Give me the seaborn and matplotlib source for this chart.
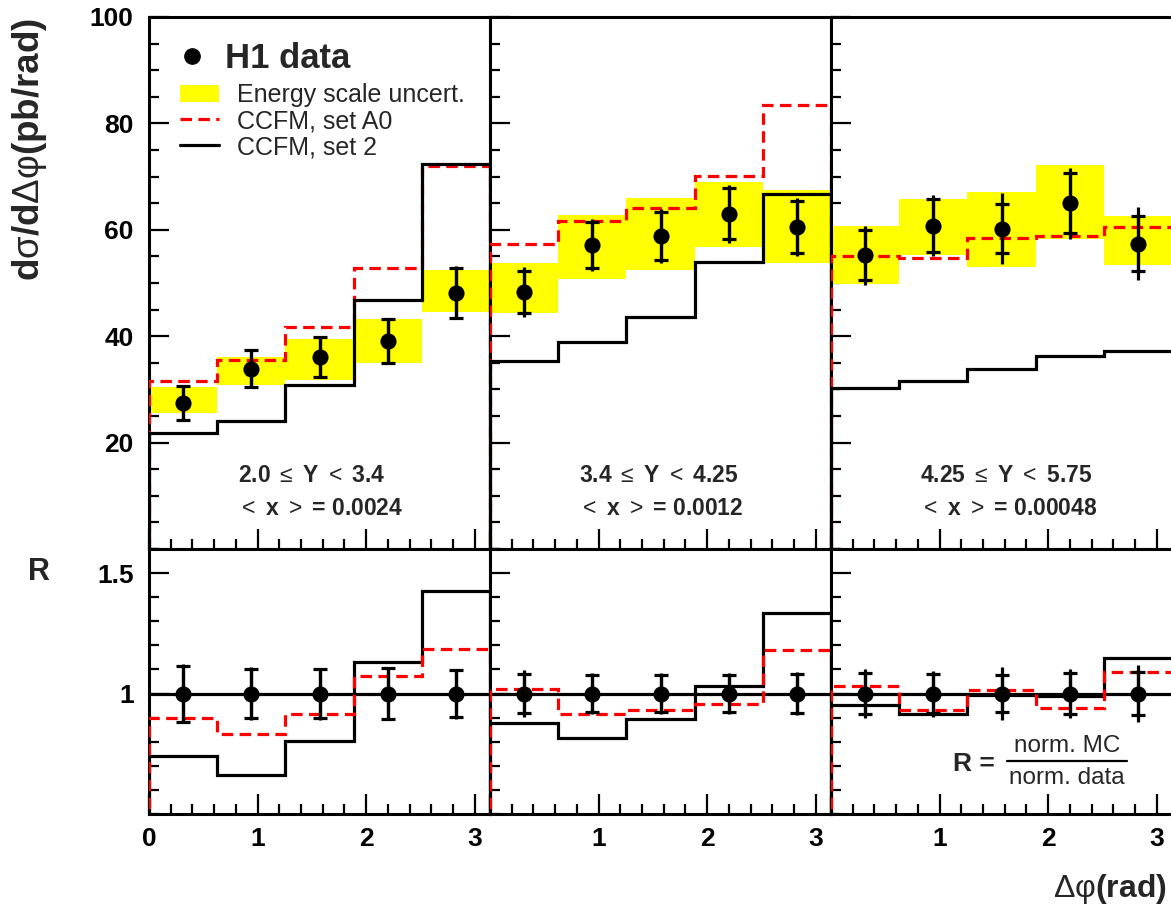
import numpy as np
import pandas as pd
import matplotlib
matplotlib.use("Agg")
import matplotlib.pyplot as plt
from matplotlib.lines import Line2D
from matplotlib.patches import Patch
from matplotlib.ticker import MultipleLocator, FixedLocator, FixedFormatter
import seaborn as sns

# five equal Δφ bins between 0 and π
phi_edges = np.linspace(0.0, np.pi, 6)
phi_centres = 0.5 * (phi_edges[:-1] + phi_edges[1:])

rapidity_labels = [r"2.0 $\leq$ Y $<$ 3.4",
                   r"3.4 $\leq$ Y $<$ 4.25",
                   r"4.25 $\leq$ Y $<$ 5.75"]
mean_x_labels = [r"$<$ x $>$ = 0.0024",
                 r"$<$ x $>$ = 0.0012",
                 r"$<$ x $>$ = 0.00048"]

# H1 data, dσ/dΔφ in pb/rad, one list per rapidity interval
xsec_y1 = [27.5, 33.9, 36.1, 39.1, 48.2]
xsec_y2 = [48.3, 57.1, 58.8, 63.0, 60.5]
xsec_y3 = [55.2, 60.8, 60.2, 65.0, 57.4]
# statistical (inner) and total (outer) errors
stat_y1 = [3.2, 3.5, 3.7, 4.1, 4.7]
stat_y2 = [4.0, 4.3, 4.5, 4.8, 4.9]
stat_y3 = [4.7, 4.9, 4.6, 5.6, 5.2]
tot_y1 = [3.4, 3.7, 3.9, 4.3, 5.0]
tot_y2 = [4.7, 4.9, 5.1, 5.4, 5.4]
tot_y3 = [5.6, 5.8, 6.7, 6.7, 6.8]

# energy scale uncertainty band (lower / upper edge)
escale_lo_y1 = [25.6, 30.8, 31.8, 35.0, 44.5]
escale_hi_y1 = [30.4, 36.1, 39.5, 43.3, 52.5]
escale_lo_y2 = [44.3, 50.8, 52.5, 56.8, 53.8]
escale_hi_y2 = [53.8, 62.8, 66.0, 68.9, 67.5]
escale_lo_y3 = [49.8, 55.2, 53.0, 58.2, 53.3]
escale_hi_y3 = [60.8, 65.7, 67.1, 72.2, 62.5]

# CCFM predictions
ccfm_a0_y1 = [31.5, 35.6, 41.8, 52.9, 71.9]
ccfm_a0_y2 = [57.4, 61.6, 64.1, 70.2, 83.5]
ccfm_a0_y3 = [55.0, 54.7, 58.5, 58.8, 60.5]
ccfm_s2_y1 = [21.8, 24.1, 30.8, 46.8, 72.4]
ccfm_s2_y2 = [35.3, 38.9, 43.6, 54.0, 66.7]
ccfm_s2_y3 = [30.3, 31.6, 33.9, 36.3, 37.3]

# shape ratios R = norm. MC / norm. data
ratio_a0_y1 = [0.897, 0.831, 0.917, 1.072, 1.185]
ratio_a0_y2 = [1.017, 0.917, 0.930, 0.957, 1.182]
ratio_a0_y3 = [1.030, 0.930, 1.014, 0.938, 1.090]
ratio_s2_y1 = [0.741, 0.662, 0.803, 1.129, 1.427]
ratio_s2_y2 = [0.876, 0.817, 0.893, 1.030, 1.336]
ratio_s2_y3 = [0.952, 0.917, 0.996, 0.990, 1.147]

panels = [
    dict(xsec=xsec_y1, stat=stat_y1, tot=tot_y1, lo=escale_lo_y1, hi=escale_hi_y1,
         a0=ccfm_a0_y1, s2=ccfm_s2_y1, ra0=ratio_a0_y1, rs2=ratio_s2_y1),
    dict(xsec=xsec_y2, stat=stat_y2, tot=tot_y2, lo=escale_lo_y2, hi=escale_hi_y2,
         a0=ccfm_a0_y2, s2=ccfm_s2_y2, ra0=ratio_a0_y2, rs2=ratio_s2_y2),
    dict(xsec=xsec_y3, stat=stat_y3, tot=tot_y3, lo=escale_lo_y3, hi=escale_hi_y3,
         a0=ccfm_a0_y3, s2=ccfm_s2_y3, ra0=ratio_a0_y3, rs2=ratio_s2_y3),
]

sns.set_style("ticks")
plt.rcParams.update({
    "font.family": ["Liberation Sans", "DejaVu Sans"],
    "mathtext.fontset": "custom",
    "mathtext.rm": "Liberation Sans",
    "mathtext.it": "Liberation Sans:italic",
    "mathtext.bf": "Liberation Sans:bold",
    "axes.linewidth": 2.2,
    "axes.edgecolor": "black",
    "xtick.color": "black",
    "ytick.color": "black",
})

W, H = 1171, 915
fig = plt.figure(figsize=(W / 100, H / 100), dpi=100)


def axes_px(left, top, width, height):
    return fig.add_axes([left / W, 1 - (top + height) / H, width / W, height / H])


RED_DASH = (0, (3.6, 2.0))
LW = 2.3
col_left = [149, 490, 831]
col_w = 341
widths = np.diff(phi_edges)


def style_ticks(ax):
    ax.tick_params(which="both", direction="in", top=False, right=False,
                   width=1.6, labelsize=19)
    ax.tick_params(axis="y", pad=11)
    ax.tick_params(axis="x", pad=9)
    ax.tick_params(which="major", length=14.5)
    ax.tick_params(which="minor", length=7.5)
    ax.xaxis.set_major_locator(FixedLocator([0, 1, 2, 3]))
    ax.xaxis.set_minor_locator(MultipleLocator(0.2))
    for lab in ax.get_xticklabels() + ax.get_yticklabels():
        lab.set_fontweight("bold")


def draw_errors(ax, x, y, stat, tot):
    ax.errorbar(x, y, yerr=tot, fmt="none", ecolor="black", elinewidth=2.3,
                capsize=0, zorder=6)
    ax.errorbar(x, y, yerr=stat, fmt="none", ecolor="black", elinewidth=2.3,
                capsize=5.0, capthick=2.3, zorder=6)
    sns.scatterplot(x=x, y=y, ax=ax, color="black", s=135, edgecolor="black",
                    linewidth=0, zorder=7, legend=False)


for i, p in enumerate(panels):
    xsec = np.array(p["xsec"])
    stat = np.array(p["stat"])
    tot = np.array(p["tot"])

    # ---- cross-section panel ----
    ax = axes_px(col_left[i], 17, col_w, 532)
    ax.bar(phi_edges[:-1], np.array(p["hi"]) - np.array(p["lo"]), width=widths,
           bottom=p["lo"], align="edge", color="#ffff00", linewidth=0, zorder=1)
    ax.stairs(p["a0"], phi_edges, baseline=0, color="red", lw=LW,
              linestyle=RED_DASH, zorder=3)
    ax.stairs(p["s2"], phi_edges, baseline=0, color="black", lw=LW, zorder=4)
    draw_errors(ax, phi_centres, xsec, stat, tot)
    ax.set_xlim(0, np.pi)
    ax.set_ylim(0, 100)
    ax.yaxis.set_major_locator(FixedLocator([20, 40, 60, 80, 100]))
    ax.yaxis.set_minor_locator(MultipleLocator(5))
    ax.set_xlabel("")
    ax.set_ylabel("")
    style_ticks(ax)
    ax.set_xticklabels([])
    if i > 0:
        ax.set_yticklabels([])
    ax.text(0.26, 0.139, rapidity_labels[i], transform=ax.transAxes,
            fontsize=16.5, fontweight="bold", ha="left", va="center")
    ax.text(0.26, 0.077, mean_x_labels[i], transform=ax.transAxes,
            fontsize=16.5, fontweight="bold", ha="left", va="center")

    if i == 0:
        h_data = Line2D([], [], marker="o", color="black", linestyle="none",
                        markersize=11)
        leg1 = ax.legend([h_data], ["H1 data"], loc="upper left",
                         bbox_to_anchor=(178 / W, 1 - 42 / H),
                         bbox_transform=fig.transFigure, frameon=False,
                         prop={"size": 25, "weight": "bold"}, handlelength=0.8,
                         handletextpad=0.55, borderpad=0, borderaxespad=0)
        ax.add_artist(leg1)
        handles = [Patch(facecolor="#ffff00", edgecolor="none"),
                   Line2D([], [], color="red", lw=LW, linestyle=RED_DASH),
                   Line2D([], [], color="black", lw=LW)]
        ax.legend(handles, ["Energy scale uncert.", "CCFM, set A0", "CCFM, set 2"],
                  loc="upper left", bbox_to_anchor=(180 / W, 1 - 83 / H),
                  bbox_transform=fig.transFigure, frameon=False,
                  prop={"size": 18}, handlelength=1.55, handletextpad=0.72,
                  labelspacing=0.08, borderpad=0, borderaxespad=0)

    # ---- ratio panel ----
    axr = axes_px(col_left[i], 549, col_w, 265)
    axr.axhline(1.0, color="black", lw=LW, zorder=2)
    axr.stairs(p["rs2"], phi_edges, baseline=0, color="black", lw=LW, zorder=3)
    axr.stairs(p["ra0"], phi_edges, baseline=0, color="red", lw=LW,
               linestyle=RED_DASH, zorder=4)
    draw_errors(axr, phi_centres, np.ones(5), stat / xsec, tot / xsec)
    axr.set_xlim(0, np.pi)
    axr.set_ylim(0.5, 1.6)
    axr.yaxis.set_major_locator(FixedLocator([1.0, 1.5]))
    axr.yaxis.set_major_formatter(FixedFormatter(["1", "1.5"]))
    axr.yaxis.set_minor_locator(MultipleLocator(0.1))
    axr.set_xlabel("")
    axr.set_ylabel("")
    axr.xaxis.set_major_formatter(FixedFormatter(["0" if i == 0 else "", "1", "2", "3"]))
    style_ticks(axr)
    if i > 0:
        axr.set_yticklabels([])

# ratio definition, written as a stacked fraction
fig.text(953 / W, 1 - 764 / H, "R =", fontsize=19, fontweight="bold",
         ha="left", va="center")
fig.text(1067 / W, 1 - 746 / H, "norm. MC", fontsize=17.5, ha="center", va="center")
fig.text(1067 / W, 1 - 778 / H, "norm. data", fontsize=17.5, ha="center", va="center")
fig.add_artist(Line2D([1007 / W, 1127 / W], [1 - 761 / H, 1 - 761 / H],
                      transform=fig.transFigure, color="black", lw=1.6))

fig.text(30 / W, 1 - 149 / H, r"d$\mathrm{\sigma}$/d$\mathrm{\Delta\varphi}$(pb/rad)",
         rotation=90, fontsize=26.5, fontweight="bold", ha="center", va="center")
fig.text(39 / W, 1 - 572 / H, "R", fontsize=22, fontweight="bold",
         ha="center", va="center")
fig.text(1167 / W, 1 - 889 / H, r"$\mathrm{\Delta\varphi}$(rad)", fontsize=23,
         fontweight="bold", ha="right", va="center")

fig.savefig("out.png", dpi=100)
